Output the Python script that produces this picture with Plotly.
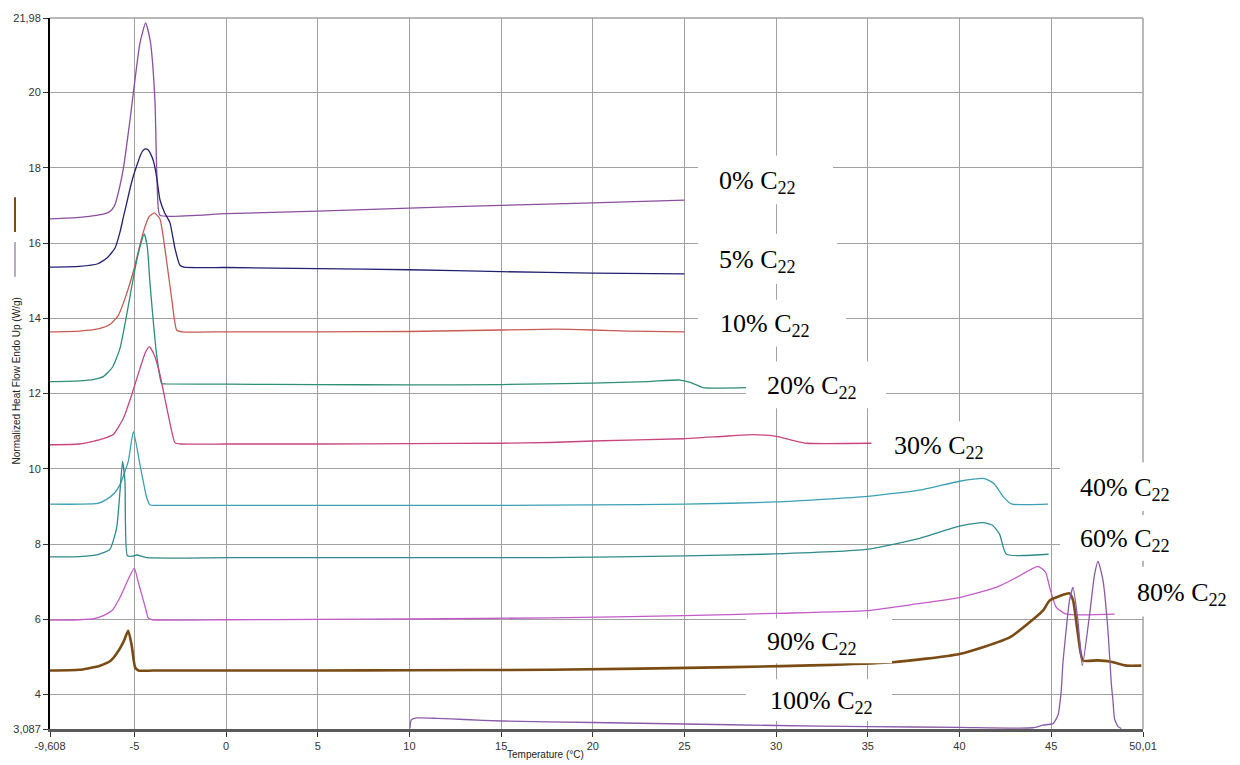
import plotly.graph_objects as go

# ---------------- data ----------------
x_0 = [-9.608, -8, -7, -6.6, -6.34, -6.1, -5.97, -5.61, -5.24, -5.06, -4.70, -4.39, -4.15, -4.06, -3.88, -3.79, -3.70, -3.6, 0, 5, 10, 15, 20, 25]
y_0 = [16.64, 16.68, 16.74, 16.78, 16.84, 16.98, 17.17, 17.97, 19.29, 20.0, 21.32, 21.85, 21.4, 21.05, 19.73, 17.97, 16.91, 16.73, 16.78, 16.85, 16.93, 17.0, 17.07, 17.14]

x_5 = [-9.608, -8, -7, -6.5, -6.06, -5.79, -5.6, -5.43, -5.24, -5.05, -4.88, -4.7, -4.55, -4.39, -4.25, -4.1, -3.95, -3.79, -3.61, -3.35, -3.07, -2.79, -2.52, -2.3, 0, 5, 10, 15, 20, 25]
y_5 = [15.36, 15.38, 15.45, 15.6, 15.87, 16.29, 16.7, 17.05, 17.45, 17.8, 18.05, 18.3, 18.45, 18.5, 18.47, 18.35, 18.15, 17.75, 17.15, 16.8, 16.55, 15.85, 15.41, 15.36, 15.35, 15.32, 15.29, 15.24, 15.2, 15.18]

x_10 = [-9.608, -8, -6.88, -6.3, -5.88, -5.5, -5.07, -4.52, -4.2, -3.92, -3.61, -3.34, -2.97, -2.70, -2.4, 0, 5, 10, 15, 18, 20, 22, 25]
y_10 = [13.64, 13.66, 13.73, 13.85, 14.08, 14.55, 15.23, 16.29, 16.7, 16.8, 16.64, 15.85, 14.52, 13.69, 13.64, 13.64, 13.64, 13.65, 13.69, 13.71, 13.69, 13.66, 13.64]

x_20 = [-9.608, -8, -7.2, -6.70, -6.2, -5.79, -5.43, -4.97, -4.7, -4.47, -4.3, -4.16, -3.79, -3.52, -3.3, 0, 5, 10, 15, 20, 23, 24.74, 25.3, 26.01, 28.4]
y_20 = [12.32, 12.34, 12.38, 12.45, 12.7, 13.2, 14.08, 15.32, 15.9, 16.24, 15.9, 14.97, 13.03, 12.27, 12.26, 12.25, 12.24, 12.23, 12.24, 12.28, 12.32, 12.36, 12.3, 12.16, 12.16]

x_30 = [-9.608, -8, -7.25, -6.7, -6.16, -5.6, -5.15, -4.70, -4.4, -4.19, -3.9, -3.61, -3.16, -2.79, -2.5, 0, 5, 10, 15, 17.65, 20, 24.92, 27, 28.74, 30.02, 31.1, 31.65, 35.2]
y_30 = [10.64, 10.66, 10.73, 10.8, 10.91, 11.35, 11.97, 12.67, 13.1, 13.25, 13.0, 12.5, 11.44, 10.69, 10.66, 10.66, 10.66, 10.67, 10.68, 10.70, 10.74, 10.80, 10.86, 10.91, 10.86, 10.73, 10.68, 10.68]

x_40 = [-9.608, -8, -7, -6.52, -6.1, -5.79, -5.34, -5.06, -4.70, -4.33, -4.15, -3.8, 0, 5, 10, 15, 20, 25, 30, 35, 38, 40, 41.37, 41.9, 42.37, 42.83, 44.83]
y_40 = [9.06, 9.06, 9.08, 9.19, 9.35, 9.58, 10.2, 10.99, 10.11, 9.23, 9.04, 9.03, 9.03, 9.03, 9.03, 9.03, 9.04, 9.06, 9.12, 9.27, 9.45, 9.67, 9.74, 9.6, 9.27, 9.07, 9.06]

x_60 = [-9.608, -8, -7, -6.34, -5.97, -5.79, -5.65, -5.52, -5.39, -5.1, -4.88, -4.33, 0, 5, 10, 17.65, 25, 29.29, 34.92, 37.65, 40, 41.28, 41.8, 42.19, 42.56, 44.86]
y_60 = [7.66, 7.67, 7.72, 7.86, 8.44, 9.41, 10.20, 9.67, 7.69, 7.68, 7.71, 7.64, 7.64, 7.64, 7.64, 7.64, 7.69, 7.73, 7.86, 8.13, 8.48, 8.57, 8.5, 8.26, 7.73, 7.73]

x_80 = [-9.608, -8, -7.2, -6.70, -6.2, -5.79, -5.4, -5.01, -4.8, -4.61, -4.4, -4.25, -4.0, 0, 5, 10, 17.65, 24.92, 30, 34.92, 37.65, 40, 42, 43.1, 44.28, 44.7, 44.92, 45.28, 45.83, 48.46]
y_80 = [5.98, 5.99, 6.02, 6.10, 6.25, 6.58, 7.0, 7.36, 7.0, 6.67, 6.3, 6.04, 5.99, 5.99, 6.0, 6.01, 6.04, 6.10, 6.16, 6.23, 6.41, 6.58, 6.85, 7.11, 7.41, 7.25, 6.85, 6.32, 6.14, 6.14]

x_90 = [-9.608, -8, -6.88, -6.3, -5.97, -5.6, -5.34, -5.15, -4.97, -4.79, -4, 0, 5, 10, 17.65, 27.65, 33, 36.37, 40, 42.74, 44.55, 44.92, 46.0, 46.2, 46.46, 46.73, 47.5, 48.2, 49.1, 49.92]
y_90 = [4.64, 4.66, 4.77, 4.9, 5.09, 5.4, 5.70, 5.3, 4.73, 4.64, 4.64, 4.64, 4.64, 4.65, 4.66, 4.73, 4.79, 4.86, 5.08, 5.52, 6.23, 6.5, 6.69, 6.5, 5.61, 4.91, 4.91, 4.88, 4.77, 4.77]

x_100 = [10.02, 10.1, 10.4, 11.5, 13, 15, 20, 25, 30, 35, 40, 44.0, 44.55, 45.1, 45.37, 45.55, 45.64, 46.0, 46.19, 46.46, 46.70, 47.1, 47.37, 47.56, 47.83, 48.1, 48.28, 48.37, 48.46, 48.65, 48.83]
y_100 = [3.10, 3.33, 3.38, 3.37, 3.34, 3.30, 3.26, 3.22, 3.18, 3.15, 3.13, 3.12, 3.19, 3.23, 3.45, 4.1, 4.82, 6.5, 6.85, 5.97, 4.77, 6.14, 7.2, 7.55, 7.03, 5.70, 4.3, 3.85, 3.35, 3.15, 3.10]

series_names = ["0% C22", "5% C22", "10% C22", "20% C22", "30% C22", "40% C22", "60% C22", "80% C22", "90% C22", "100% C22"]
series_x = [x_0, x_5, x_10, x_20, x_30, x_40, x_60, x_80, x_90, x_100]
series_y = [y_0, y_5, y_10, y_20, y_30, y_40, y_60, y_80, y_90, y_100]

x_ticks = [-9.608, -5, 0, 5, 10, 15, 20, 25, 30, 35, 40, 45, 50.01]
x_ticktext = ["-9,608", "-5", "0", "5", "10", "15", "20", "25", "30", "35", "40", "45", "50,01"]
y_ticks = [3.087, 4, 6, 8, 10, 12, 14, 16, 18, 20, 21.98]
y_ticktext = ["3,087", "4", "6", "8", "10", "12", "14", "16", "18", "20", "21,98"]

label_texts = ["0% C<sub>22</sub>", "5% C<sub>22</sub>", "10% C<sub>22</sub>", "20% C<sub>22</sub>",
               "30% C<sub>22</sub>", "40% C<sub>22</sub>", "60% C<sub>22</sub>", "80% C<sub>22</sub>",
               "90% C<sub>22</sub>", "100% C<sub>22</sub>"]

# ---------------- styles / layout ----------------
colors = ["#8b4f9f", "#232070", "#c65a55", "#2f8f75", "#c8457f", "#3ba0b5", "#2e8a8c", "#c45ac8", "#7a4b14", "#8a5aa8"]
widths = [1.3, 1.3, 1.3, 1.3, 1.3, 1.3, 1.3, 1.3, 2.6, 1.3]

W, H = 1240, 765
L, R, T, B = 50, 1143, 15, 729


def px(xp):
    return (xp - L) / (R - L)


def py(yp):
    return 1 - (yp - T) / (B - T)


# label boxes in page pixels: (left, top, right, bottom, text-left)
label_boxes = [
    (698, 153, 833, 202, 717),
    (698, 232, 837, 282, 717),
    (698, 298, 846, 345, 718),
    (746, 360, 886, 407, 765),
    (872, 420, 1010, 467, 892),
    (1060, 461, 1200, 510, 1078),
    (1060, 514, 1200, 560, 1078),
    (1115, 566, 1240, 616, 1135),
    (746, 618, 892, 663, 765),
    (746, 679, 892, 721, 768),
]

fig = go.Figure()
for name, xs, ys, c, w in zip(series_names, series_x, series_y, colors, widths):
    fig.add_trace(go.Scatter(x=xs, y=ys, mode="lines", name=name,
                             line=dict(color=c, width=w, shape="spline", smoothing=0.5),
                             showlegend=False))

shapes = []
annotations = []
for (l, t, r, b, tl), txt in zip(label_boxes, label_texts):
    shapes.append(dict(type="rect", xref="paper", yref="paper",
                       x0=px(l), x1=px(r), y0=py(b), y1=py(t),
                       fillcolor="white", line=dict(width=0), layer="above"))
    annotations.append(dict(xref="paper", yref="paper", x=px(tl), y=py((t + b) / 2 + 2),
                            xanchor="left", yanchor="middle", showarrow=False,
                            text=txt, font=dict(family="Liberation Serif", size=26, color="black")))

# plot frame (top and right) in gray
shapes.append(dict(type="line", xref="paper", yref="paper", x0=0, x1=1, y0=1, y1=1,
                   line=dict(color="#a0a0a0", width=1.5), layer="below"))
shapes.append(dict(type="line", xref="paper", yref="paper", x0=1, x1=1, y0=0, y1=1,
                   line=dict(color="#a0a0a0", width=1.5), layer="below"))
# small legend marks next to the y title
shapes.append(dict(type="line", xref="paper", yref="paper", x0=px(15), x1=px(15), y0=py(230), y1=py(195),
                   line=dict(color="#7a4b14", width=2)))
shapes.append(dict(type="line", xref="paper", yref="paper", x0=px(15), x1=px(15), y0=py(275), y1=py(240),
                   line=dict(color="#6a5a8a", width=1)))

annotations.append(dict(xref="paper", yref="paper", x=px(16), y=py(380), textangle=-90,
                        showarrow=False, xanchor="center", yanchor="middle",
                        text="Normalized Heat Flow Endo Up (W/g)",
                        font=dict(family="Liberation Sans", size=10, color="#222")))
annotations.append(dict(xref="paper", yref="paper", x=px(545), y=py(755),
                        showarrow=False, xanchor="center", yanchor="middle",
                        text="Temperature (°C)",
                        font=dict(family="Liberation Sans", size=10, color="#222")))

fig.update_layout(
    width=W, height=H,
    margin=dict(l=L, r=W - R, t=T, b=H - B, pad=0),
    paper_bgcolor="white", plot_bgcolor="white",
    shapes=shapes, annotations=annotations,
    showlegend=False,
    font=dict(family="Liberation Sans", size=11, color="#333"),
)
fig.update_xaxes(range=[-9.608, 50.01], tickmode="array", tickvals=x_ticks, ticktext=x_ticktext,
                 showgrid=True, gridcolor="#a0a0a0", gridwidth=1,
                 showline=True, linecolor="#5a5a5a", linewidth=3,
                 ticks="outside", ticklen=5, tickcolor="#333", zeroline=False,
                 tickfont=dict(family="Liberation Sans", size=11, color="#333"))
fig.update_yaxes(range=[3.087, 21.98], tickmode="array", tickvals=y_ticks, ticktext=y_ticktext,
                 showgrid=True, gridcolor="#a0a0a0", gridwidth=1,
                 showline=True, linecolor="black", linewidth=2,
                 ticks="outside", ticklen=5, tickcolor="#333", zeroline=False,
                 tickfont=dict(family="Liberation Sans", size=11, color="#333"))

fig.write_html("out.html", config={"displayModeBar": False},
               post_script="document.body.style.margin='0';document.body.style.overflow='hidden';")
